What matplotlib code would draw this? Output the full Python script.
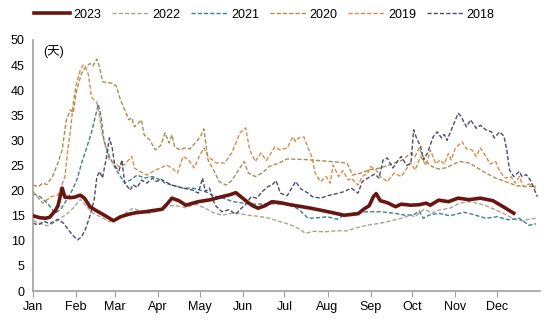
import matplotlib
matplotlib.use("Agg")
import matplotlib.pyplot as plt

plt.rcParams['font.family'] = ['Liberation Sans', 'Noto Sans CJK SC', 'DejaVu Sans']

# day of year / value pairs
d2023 = [0, 5, 9, 12, 16, 18, 21, 23, 27, 30, 34, 37, 41, 45, 52, 58, 63, 69, 74, 81, 88, 93, 97, 100,
         105, 110, 115, 119, 128, 136, 142, 146, 150, 154, 158, 162, 167, 172, 178, 185, 200, 214, 224,
         234, 238, 242, 245, 247, 250, 255, 261, 265, 272, 278, 283, 286, 292, 299, 306, 314, 322, 331,
         339, 346]
v2023 = [15.0, 14.6, 14.5, 14.7, 16.0, 17.0, 20.5, 18.7, 18.6, 18.7, 19.1, 18.5, 16.8, 16.1, 15.0, 14.0,
         14.8, 15.3, 15.6, 15.8, 16.1, 16.3, 17.5, 18.5, 18.0, 17.1, 17.5, 17.8, 18.2, 18.8, 19.2, 19.6,
         18.7, 17.8, 17.0, 16.5, 17.0, 17.8, 17.6, 17.2, 16.5, 15.7, 15.1, 15.4, 16.3, 17.0, 18.8, 19.4,
         18.0, 17.6, 16.8, 17.3, 17.1, 17.2, 17.5, 17.1, 18.1, 17.8, 18.5, 18.2, 18.5, 18.0, 16.7, 15.5]

d2022 = [0, 5, 10, 15, 19, 25, 30, 34, 38, 43, 50, 55, 63, 68, 72, 78, 84, 92, 97, 103, 110, 117, 124,
         130, 136, 145, 155, 162, 170, 176, 182, 188, 192, 196, 202, 210, 218, 226, 233, 240, 250, 258,
         265, 272, 275, 279, 282, 287, 293, 300, 307, 314, 320, 326, 336, 342, 346, 352, 357, 362]
v2022 = [14.0, 13.5, 13.0, 13.6, 14.3, 15.5, 16.8, 18.3, 17.0, 15.5, 14.6, 13.8, 14.8, 15.8, 16.5, 15.8,
         15.5, 16.1, 17.0, 17.0, 16.6, 17.3, 16.5, 15.6, 15.1, 15.6, 15.1, 14.9, 14.5, 14.0, 13.5, 12.9,
         12.3, 11.5, 11.9, 11.8, 12.0, 12.0, 12.6, 13.1, 13.5, 14.0, 14.5, 15.1, 14.8, 15.8, 16.3, 15.5,
         16.2, 16.5, 17.5, 17.8, 17.5, 17.0, 15.8, 15.0, 14.3, 14.0, 14.3, 14.5]

d2021 = [0, 5, 10, 16, 20, 25, 29, 32, 35, 38, 42, 47, 49, 51, 55, 60, 66, 70, 75, 80, 86, 92, 95, 100,
         108, 115, 124, 130, 137, 144, 152, 160, 170, 182, 188, 192, 198, 205, 212, 219, 225, 232, 240,
         250, 260, 268, 274, 278, 281, 285, 292, 300, 306, 310, 316, 326, 334, 342, 350, 357, 362]
v2021 = [19.4, 18.8, 17.6, 15.5, 16.3, 18.5, 20.5, 22.5, 25.5, 28.0, 31.5, 37.2, 34.7, 30.1, 26.8, 24.1,
         21.5, 22.1, 23.1, 22.5, 22.8, 22.1, 21.5, 21.1, 20.5, 20.5, 19.8, 19.0, 18.5, 17.8, 17.5, 17.3,
         17.4, 17.3, 16.8, 16.1, 14.5, 14.6, 14.8, 14.3, 15.3, 15.6, 15.8, 15.8, 15.5, 15.1, 15.2, 15.9,
         14.5, 15.1, 15.5, 15.0, 15.4, 15.7, 15.3, 14.5, 14.8, 14.2, 14.5, 13.1, 13.4]

d2020 = [0, 4, 7, 10, 14, 18, 21, 24, 27, 29, 31, 33, 35, 38, 41, 43, 46, 48, 50, 53, 57, 60, 63, 66,
         69, 71, 73, 76, 78, 80, 84, 88, 92, 95, 98, 100, 102, 106, 109, 113, 118, 121, 123, 126, 130,
         134, 139, 143, 148, 152, 155, 160, 165, 170, 177, 183, 195, 210, 226, 230, 236, 243, 250, 260,
         266, 272, 275, 278, 282, 287, 292, 298, 302, 307, 314, 320, 326, 333, 340, 348, 355, 362]
v2020 = [21.1, 20.8, 21.5, 21.2, 22.8, 25.5, 28.1, 34.1, 36.1, 35.5, 39.4, 41.5, 43.4, 44.7, 45.3, 44.8,
         46.2, 44.5, 41.7, 41.5, 41.4, 40.8, 38.0, 36.1, 34.1, 34.5, 32.7, 33.5, 34.1, 31.1, 30.1, 28.1,
         29.0, 31.5, 29.5, 31.1, 28.7, 28.1, 28.5, 28.3, 29.9, 31.0, 32.3, 26.1, 24.1, 21.8, 21.1, 22.0,
         24.1, 25.8, 23.5, 22.8, 23.5, 24.8, 25.5, 26.3, 26.2, 25.9, 25.5, 23.1, 23.5, 24.2, 24.5, 25.5,
         26.1, 27.5, 26.8, 28.5, 26.1, 24.8, 24.3, 24.6, 25.2, 25.8, 25.5, 24.5, 23.5, 22.5, 21.8, 21.0,
         20.8, 20.9]

d2019 = [0, 4, 7, 13, 18, 23, 25, 27, 29, 31, 34, 36, 38, 40, 42, 44, 46, 48, 50, 53, 55, 58, 62, 66,
         71, 73, 77, 82, 88, 92, 96, 100, 104, 108, 112, 116, 120, 123, 126, 132, 138, 143, 149, 153, 156,
         160, 164, 168, 174, 178, 183, 187, 189, 191, 195, 198, 201, 203, 207, 211, 214, 216, 220, 223,
         227, 229, 234, 237, 241, 243, 247, 250, 255, 260, 265, 270, 272, 275, 279, 283, 286, 290, 293,
         296, 299, 301, 304, 306, 309, 312, 316, 319, 322, 326, 329, 333, 336, 340, 344, 347, 350, 353,
         357, 360, 363]
v2019 = [19.8, 18.5, 17.5, 18.8, 19.1, 22.8, 28.1, 32.1, 37.5, 41.0, 44.0, 45.0, 44.5, 43.0, 38.7, 38.0,
         37.5, 34.7, 31.0, 28.1, 26.1, 25.5, 24.8, 25.2, 26.8, 24.5, 23.8, 23.1, 24.1, 24.5, 25.1, 24.5,
         23.5, 26.8, 26.1, 24.5, 27.0, 28.5, 26.8, 25.5, 25.5, 27.5, 31.5, 32.5, 28.1, 25.8, 27.5, 26.0,
         28.7, 28.1, 28.5, 30.7, 29.8, 30.5, 30.7, 28.5, 26.5, 23.5, 21.8, 22.8, 21.5, 25.1, 22.8, 24.0,
         22.1, 22.5, 21.1, 22.8, 23.5, 24.8, 24.1, 22.8, 21.8, 23.5, 22.8, 24.8, 25.5, 24.1, 26.8, 25.0,
         28.1, 25.3, 26.1, 25.3, 27.4, 26.1, 28.5, 29.0, 29.7, 28.3, 28.1, 26.8, 28.5, 26.8, 25.3, 25.8,
         23.8, 22.5, 22.8, 21.5, 22.8, 20.8, 21.3, 21.0, 20.1]

d2018 = [0, 4, 8, 12, 18, 22, 26, 29, 32, 35, 38, 41, 44, 46, 48, 50, 53, 55, 57, 59, 62, 64, 66, 70,
         72, 75, 78, 82, 86, 89, 92, 95, 100, 108, 115, 119, 122, 124, 127, 131, 136, 141, 146, 150, 153,
         157, 161, 165, 169, 172, 175, 178, 183, 189, 193, 198, 201, 207, 212, 217, 224, 229, 234, 237,
         241, 246, 249, 252, 255, 259, 263, 265, 269, 272, 274, 276, 279, 281, 284, 288, 291, 294, 296,
         298, 302, 306, 308, 312, 315, 319, 322, 326, 330, 332, 336, 339, 341, 343, 346, 350, 352, 355,
         358, 361, 363]
v2018 = [13.5, 13.2, 13.9, 13.4, 14.3, 13.5, 12.0, 11.0, 10.2, 10.8, 12.5, 15.0, 18.1, 22.8, 23.8, 22.5,
         26.8, 30.5, 28.5, 24.8, 24.0, 26.1, 21.5, 20.1, 21.2, 20.6, 22.1, 21.5, 22.5, 21.8, 22.3, 21.8,
         21.1, 20.5, 20.1, 19.5, 22.5, 19.8, 20.5, 17.1, 15.8, 16.2, 15.3, 16.5, 17.2, 18.8, 18.5, 19.8,
         20.8, 21.1, 22.0, 19.5, 19.0, 21.8, 20.3, 19.5, 18.8, 18.5, 19.0, 19.3, 19.8, 20.5, 19.5, 21.8,
         22.5, 23.3, 22.5, 26.1, 26.5, 24.5, 26.1, 26.8, 25.0, 25.5, 32.1, 30.5, 28.8, 26.1, 27.5, 30.7,
         31.7, 30.5, 31.2, 30.0, 32.7, 35.4, 34.8, 32.7, 34.1, 32.4, 33.0, 32.1, 31.7, 30.5, 31.7, 30.8,
         28.1, 24.1, 22.8, 23.8, 22.8, 23.2, 22.1, 20.1, 18.8]

month_days = [0, 31, 59, 90, 120, 151, 181, 212, 243, 273, 304, 334]
month_labels = ['Jan', 'Feb', 'Mar', 'Apr', 'May', 'Jun', 'Jul', 'Aug', 'Sep', 'Oct', 'Nov', 'Dec']

fig = plt.figure(figsize=(5.5, 3.22), dpi=100)
ax = fig.add_axes([0.06, 0.096, 0.922, 0.78])

dash = (3, 1.5)
ax.plot(d2022, v2022, color='#A8A491', lw=1.0, dashes=dash, label='2022')
ax.plot(d2021, v2021, color='#3D7F96', lw=1.0, dashes=dash, label='2021')
ax.plot(d2020, v2020, color='#A88F4E', lw=1.0, dashes=dash, label='2020')
ax.plot(d2019, v2019, color='#D98C4A', lw=1.0, dashes=dash, label='2019')
ax.plot(d2018, v2018, color='#4B4C6E', lw=1.0, dashes=dash, label='2018')
ax.plot(d2023, v2023, color='#6B1510', lw=2.6, label='2023', zorder=5)

ax.set_xlim(0, 365)
ax.set_ylim(0, 50)
ax.set_yticks(range(0, 51, 5))
ax.set_xticks(month_days)
ax.set_xticklabels(month_labels)
ax.tick_params(axis='y', length=0, labelsize=9, pad=6)
ax.tick_params(axis='x', length=4, color='#A0A0A0', labelsize=9, pad=3)
for s in ['top', 'right']:
    ax.spines[s].set_visible(False)
for s in ['left', 'bottom']:
    ax.spines[s].set_color('#A0A0A0')
    ax.spines[s].set_linewidth(1.2)

ax.text(15, 47.6, '(天)', fontsize=9, ha='center', va='center')

h, l = ax.get_legend_handles_labels()
order = ['2023', '2022', '2021', '2020', '2019', '2018']
hs = [h[l.index(k)] for k in order]
ax.legend(hs, order, loc='center', bbox_to_anchor=(0.456, 1.10), ncol=6, frameon=False,
          fontsize=9, handlelength=2.9, handletextpad=0.3, columnspacing=0.85)

fig.savefig('out.png', dpi=100)
